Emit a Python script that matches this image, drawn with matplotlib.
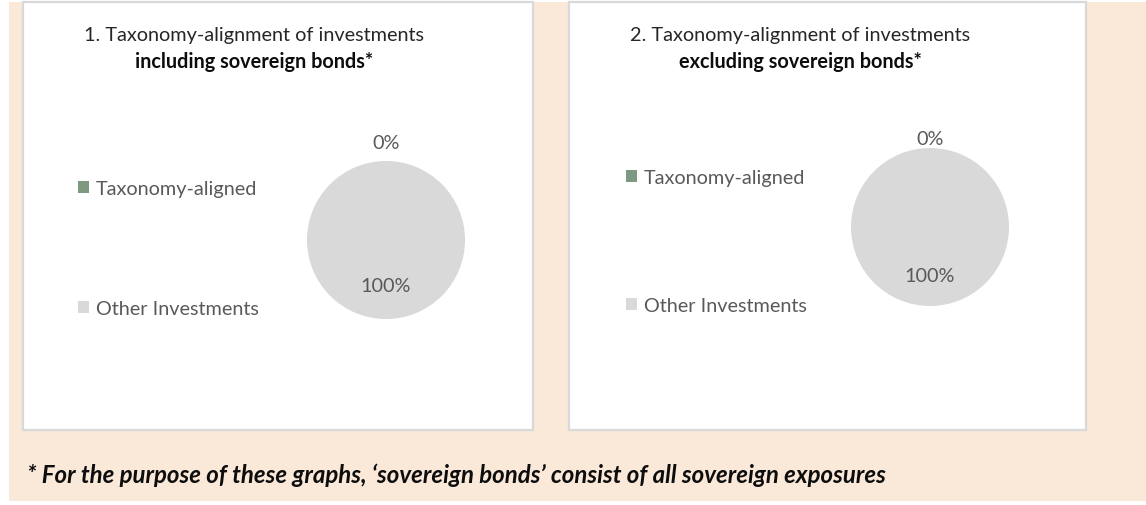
import matplotlib
matplotlib.use("Agg")
import matplotlib.pyplot as plt
from matplotlib.patches import Rectangle
import numpy as np

plt.rcParams['font.family'] = ['Lato', 'DejaVu Sans']

# data
categories = ["Taxonomy-aligned", "Other Investments"]
incl_sovereign = [0, 100]
excl_sovereign = [0, 100]
titles_line1 = ["1. Taxonomy-alignment of investments",
                "2. Taxonomy-alignment of investments"]
titles_line2 = ["including sovereign bonds*", "excluding sovereign bonds*"]
footnote = "* For the purpose of these graphs, \u2018sovereign bonds\u2019 consist of all sovereign exposures"

colors = ["#7D9A80", "#D9D9D9"]
W, H = 1146, 506
FS = 14.3

fig = plt.figure(figsize=(W / 100, H / 100), dpi=100)
fig.patch.set_facecolor("white")


def fx(x):
    return x / W


def fy(y):
    return 1 - y / H


# beige background
fig.patches.append(Rectangle((fx(9), fy(502)), fx(1146 - 9), (499) / H,
                             transform=fig.transFigure, facecolor="#FAE8D8",
                             edgecolor="none", zorder=0))

# white chart panels with light grey frames
panels = [(23, 3, 533, 431), (569, 3, 1086, 431)]
for x0, y0, x1, y1 in panels:
    fig.patches.append(Rectangle((fx(x0), fy(y1)), fx(x1 - x0), (y1 - y0) / H,
                                 transform=fig.transFigure, facecolor="white",
                                 edgecolor="#D9D9D9", linewidth=1.6, zorder=1))

# per panel layout: pie centre, radius, label distances, legend pos/spacing, title centre
layout = [
    dict(cx=386, cy=241, r=79, d0=1.24, d1=0.58, lx=78, ly=181, sp=5.18, tx=254),
    dict(cx=930, cy=228, r=79, d0=1.12, d1=0.62, lx=626, ly=170, sp=5.58, tx=800),
]
series = [incl_sovereign, excl_sovereign]

for i, (vals, lay) in enumerate(zip(series, layout)):
    r = lay["r"]
    ax = fig.add_axes([fx(lay["cx"] - r), fy(lay["cy"] + r), fx(2 * r), 2 * r / H])
    ax.set_zorder(3)
    wedges, _ = ax.pie(vals, colors=colors, startangle=90, counterclock=False,
                       wedgeprops=dict(linewidth=0))
    ax.set_xlim(-1, 1)
    ax.set_ylim(-1, 1)
    ax.set_aspect("equal")
    ax.axis("off")
    total = sum(vals)
    dists = [lay["d0"], lay["d1"]]
    for w, v, d in zip(wedges, vals, dists):
        ang = np.deg2rad((w.theta1 + w.theta2) / 2)
        ax.text(d * np.cos(ang), d * np.sin(ang), f"{v / total * 100:.0f}%",
                ha="center", va="center", fontsize=FS, color="#595959")

    leg = fig.legend(wedges, categories, loc="upper left",
                     bbox_to_anchor=(fx(lay["lx"]), fy(lay["ly"])),
                     frameon=False, fontsize=FS, handlelength=0.55,
                     handleheight=0.55, handletextpad=0.35, labelspacing=lay["sp"],
                     borderpad=0, borderaxespad=0)
    leg.set_zorder(4)
    for t in leg.get_texts():
        t.set_color("#595959")

    fig.text(fx(lay["tx"]), fy(36), titles_line1[i], ha="center", va="center",
             fontsize=FS, color="#262626", zorder=4)
    fig.text(fx(lay["tx"]), fy(62), titles_line2[i], ha="center", va="center",
             fontsize=FS, color="#0D0D0D", fontweight="bold", zorder=4)

fig.text(fx(27), fy(475), footnote, ha="left", va="center", fontsize=17.3,
         fontweight="bold", fontstyle="italic", color="#0D0D0D", zorder=4)

fig.savefig("out.png", dpi=100)
